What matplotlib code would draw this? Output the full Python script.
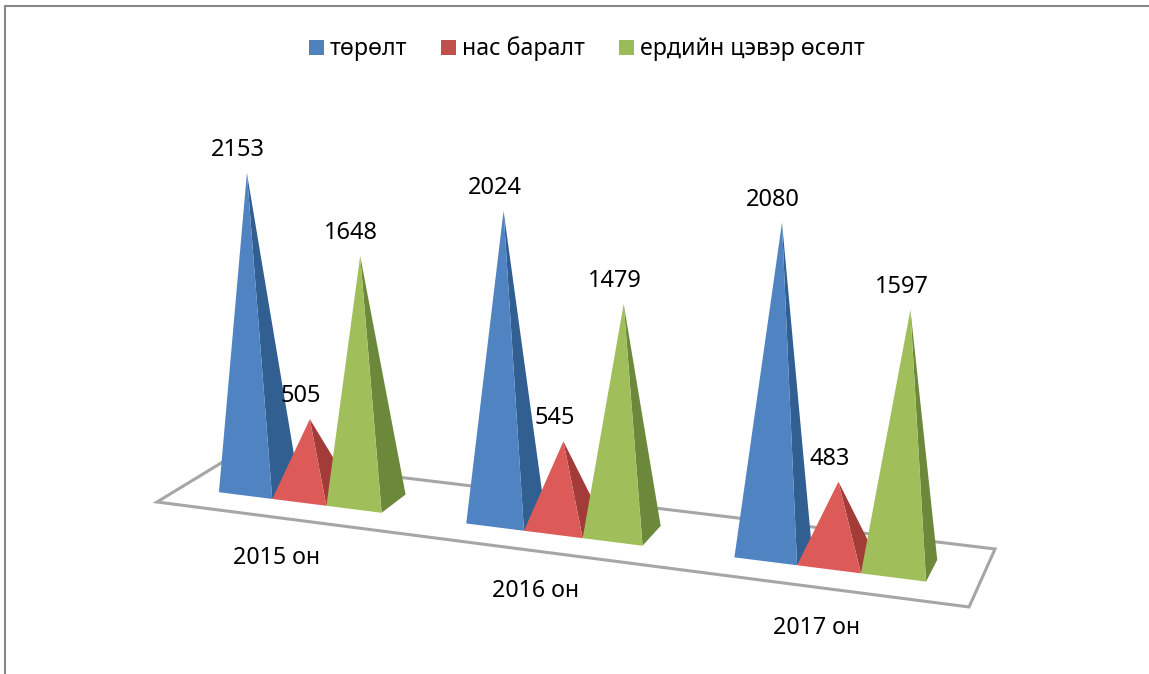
import numpy as np
from matplotlib import pyplot as plt
from matplotlib.patches import Patch, Polygon

years = ['2015 он', '2016 он', '2017 он']
series = ['төрөлт', 'нас баралт', 'ердийн цэвэр өсөлт']
births = [2153, 2024, 2080]
deaths = [505, 545, 483]
growth = [1648, 1479, 1597]

front_colors = ['#4F83C2', '#DC5A58', '#A0BF5B']
side_colors = ['#325F92', '#A33B39', '#6C893B']
legend_colors = ['#4F81BD', '#C0504D', '#9BBB59']

plt.rcParams['font.family'] = ['Noto Sans', 'DejaVu Sans']

# perspective of the floor: unit square -> picture pixels
g, h = -0.1181, 0.0668
a, b, c = 697.6, 89.4, 157
d, e, f = 33.3, -14.5, 502
height_scale = 0.149
vanish_x, vanish_y = 565, 8400


def floor(s, t):
    w = 1 + g * s + h * t
    return (a * s + b * t + c) / w, (d * s + e * t + f) / w


def top(s, t, value):
    x, y = floor(s, t)
    w = 1 + g * s + h * t
    rise = height_scale * value / w
    return x + rise * (x - vanish_x) / (vanish_y - y), y - rise


fig, ax = plt.subplots(figsize=(11.49, 6.74), dpi=100)
ax.set_position([0, 0, 1, 1])
ax.set_xlim(0, 1149)
ax.set_ylim(674, 0)
ax.axis('off')

# outer frame, only top and left show
ax.plot([5, 5, 1149], [674, 6, 6], color='#868686', lw=1.5)

corners = [floor(0, 0), floor(1, 0), floor(1, 1), floor(0, 1)]
ax.add_patch(Polygon(corners, closed=True, fc='white', ec='#A6A6A6', lw=2.2, zorder=1))

values = [births, deaths, growth]
group = 1 / 3
bar = group / 4.5
t0, t1 = 0.31, 0.69
z = 2
for i in range(len(years)):
    for j in range(len(series)):
        s0 = i * group + 0.723 * bar + j * bar
        s1 = s0 + bar
        apex = top((s0 + s1) / 2, (t0 + t1) / 2, values[j][i])
        front = [floor(s0, t0), floor(s1, t0), apex]
        side = [floor(s1, t0), floor(s1, t1), apex]
        ax.add_patch(Polygon(side, closed=True, fc=side_colors[j], ec='none', zorder=z))
        ax.add_patch(Polygon(front, closed=True, fc=front_colors[j], ec='none', zorder=z))
        z += 1
        ax.text(apex[0] - 9, apex[1] - 23, str(values[j][i]), fontsize=17, color='black',
                ha='center', va='center', zorder=50)
    lx, ly = floor((i + 0.5) * group, 0)
    ax.text(lx - 2, ly + 40, years[i], fontsize=16.7, ha='center', va='center', zorder=50)

handles = [Patch(fc=col, ec='none') for col in legend_colors]
ax.legend(handles, series, ncol=3, loc='center', bbox_to_anchor=(587 / 1149, 1 - 49 / 674),
          frameon=False, fontsize=16.7, handlelength=0.65, handleheight=0.65,
          handletextpad=0.26, columnspacing=1.46, borderpad=0)

fig.savefig('out.png', dpi=100)
